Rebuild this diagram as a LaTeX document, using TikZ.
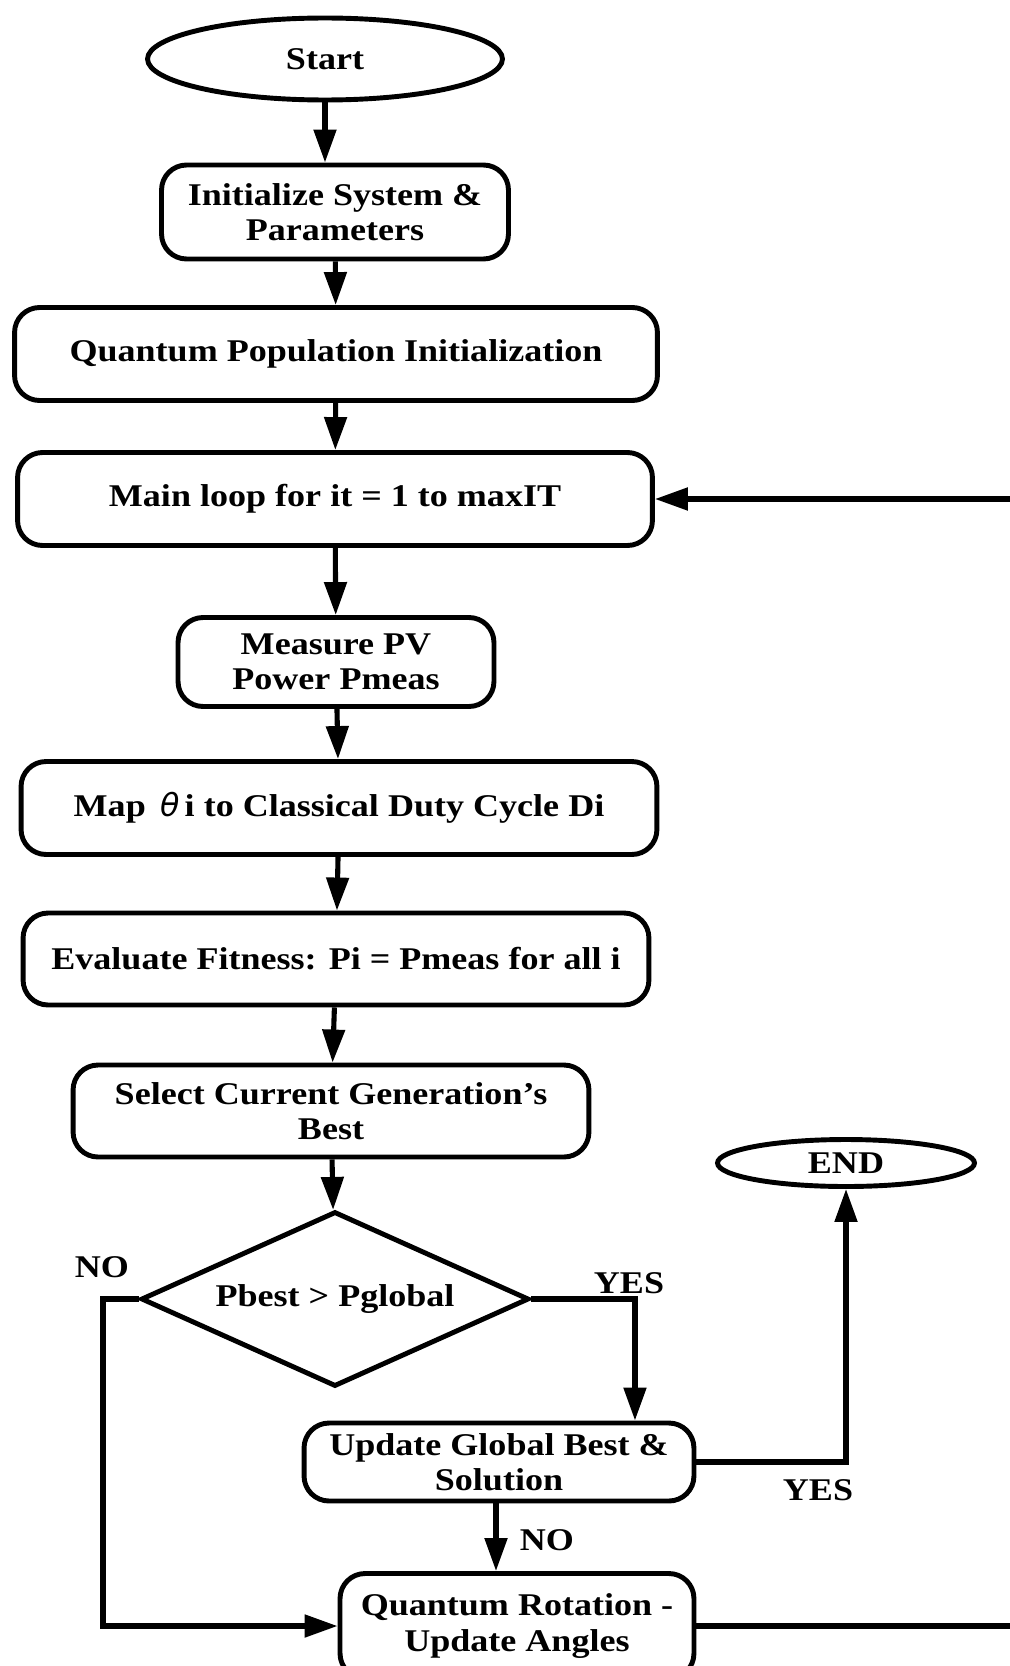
\documentclass[tikz,border=0pt]{standalone}
\usepackage{amsmath}
\usepackage{amssymb}
\usepackage{fontspec}
\setmainfont{Liberation Serif}[FakeStretch=1.14]
\newfontfamily\thetafont{DejaVu Sans}
\usepackage{tikz}
\usetikzlibrary{shapes.geometric,arrows.meta}

\begin{document}
\begin{tikzpicture}[x=0.02cm,y=-0.02cm,
	every node/.style={black,font=\fontsize{18}{20}\selectfont\bfseries,align=center},
	box/.style={draw,line width=2.8pt,rounded corners=0.5cm,inner sep=0pt},
	term/.style={draw,ellipse,line width=2.8pt,inner sep=0pt},
	cond/.style={draw,diamond,line width=2.8pt,inner sep=0pt,aspect=2.2},
	arr/.style={line width=2.9pt,-{Triangle[length=0.66cm,width=0.44cm]}}]
	\useasboundingbox (0,0) rectangle (1010,1666);
	\clip (0,0) rectangle (1010,1666);

	\coordinate (C1) at (325,59);
	\coordinate (C2) at (335,212);
	\coordinate (C3) at (336,354);
	\coordinate (C4) at (335,499);
	\coordinate (C5) at (336,662);
	\coordinate (C6) at (339,808);
	\coordinate (C7) at (336,959);
	\coordinate (C8) at (331,1111);
	\coordinate (C9) at (335,1299);
	\coordinate (C10) at (499,1462);
	\coordinate (C11) at (846,1163);
	\coordinate (C12) at (517,1626);

	\node[term,minimum width=7.1cm,minimum height=1.64cm] (start) at (C1) {Start};
	\node[box,minimum width=6.94cm,minimum height=1.88cm] (init) at (C2) {Initialize System \&\\Parameters};
	\node[box,minimum width=12.86cm,minimum height=1.86cm] (popinit) at (C3) {Quantum Population Initialization};
	\node[box,minimum width=12.7cm,minimum height=1.86cm] (mainloop) at (C4) {Main loop for it = 1 to maxIT};
	\node[box,minimum width=6.32cm,minimum height=1.78cm] (measure) at (C5) {Measure PV\\Power Pmeas};
	\node[box,minimum width=12.72cm,minimum height=1.86cm] (mapduty) at (C6) {Map \,{\thetafont\mdseries\itshape θ}\,i to Classical Duty Cycle Di};
	\node[box,minimum width=12.52cm,minimum height=1.84cm] (evalfit) at (C7) {Evaluate Fitness: Pi = Pmeas for all i};
	\node[box,minimum width=10.32cm,minimum height=1.84cm] (selbest) at (C8) {Select Current Generation’s\\Best};
	\node[cond,minimum width=7.76cm,minimum height=3.5cm] (better) at (C9) {Pbest > Pglobal};
	\node[box,minimum width=7.8cm,minimum height=1.56cm] (update) at (C10) {Update Global Best \&\\Solution};
	\node[term,minimum width=5.14cm,minimum height=0.94cm] (endnode) at (C11) {END};
	\node[box,minimum width=7.08cm,minimum height=2.1cm] (rotate) at (C12) {Quantum Rotation -\\Update Angles};

	\coordinate (nox) at (103,1450);
	\coordinate (backx) at (1016,1000);

	\draw[arr] (start) -- (start |- init.north);
	\draw[arr] (init) -- (popinit);
	\draw[arr] (popinit) -- (mainloop);
	\draw[arr] (mainloop) -- (measure);
	\draw[arr] (measure) -- (mapduty);
	\draw[arr] (mapduty) -- (evalfit);
	\draw[arr] (evalfit) -- (selbest);
	\draw[arr] (selbest) -- (better);
	\draw[arr] (better.east) -| ([xshift=2.72cm]update.north);
	\draw[arr] (better.west) -| (nox) |- (rotate.west);
	\draw[arr] (update.east) -| (endnode.south);
	\draw[arr] ([xshift=-0.06cm]update.south) -- ([xshift=-0.06cm]update.south |- rotate.north);
	\draw[arr] (rotate.east) -| (backx) |- (mainloop.east);

	\node (no1) at (102,1267) {NO};
	\node (yes1) at (629,1283) {YES};
	\node (yes2) at (818,1490) {YES};
	\node (no2) at (547,1540) {NO};
\end{tikzpicture}
\end{document}
